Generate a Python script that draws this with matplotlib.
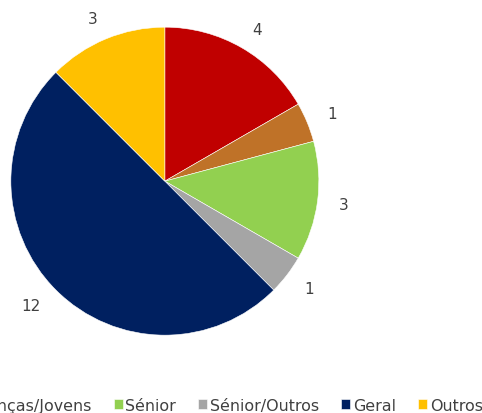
import matplotlib
matplotlib.use("Agg")
import matplotlib.pyplot as plt

categories = ["Crianças", "Crianças/Jovens", "Sénior", "Sénior/Outros", "Geral", "Outros"]
values = [4, 1, 3, 1, 12, 3]
colors = ["#C00000", "#BF7228", "#92D050", "#A5A5A5", "#002060", "#FFC000"]

fig = plt.figure(figsize=(4.82, 4.14), dpi=100)
ax = fig.add_axes([0.0225, 0.188, 0.639, 0.744])

wedges, texts = ax.pie(values, colors=colors, labels=[str(v) for v in values],
                       startangle=90, counterclock=False, labeldistance=1.14,
                       wedgeprops=dict(edgecolor="white", linewidth=0.4),
                       textprops=dict(color="#404040", fontsize=11))
ax.set_xlim(-1, 1)
ax.set_ylim(-1, 1)
ax.set_aspect("equal")

fig.legend(wedges, categories, loc="center right", bbox_to_anchor=(483 / 482, 0.0193),
           ncol=6, frameon=False, fontsize=11.4, labelcolor="#404040",
           handlelength=0.57, handleheight=0.57, handletextpad=0.17,
           columnspacing=1.4, borderpad=0, borderaxespad=0)

fig.savefig("out.png", dpi=100)
